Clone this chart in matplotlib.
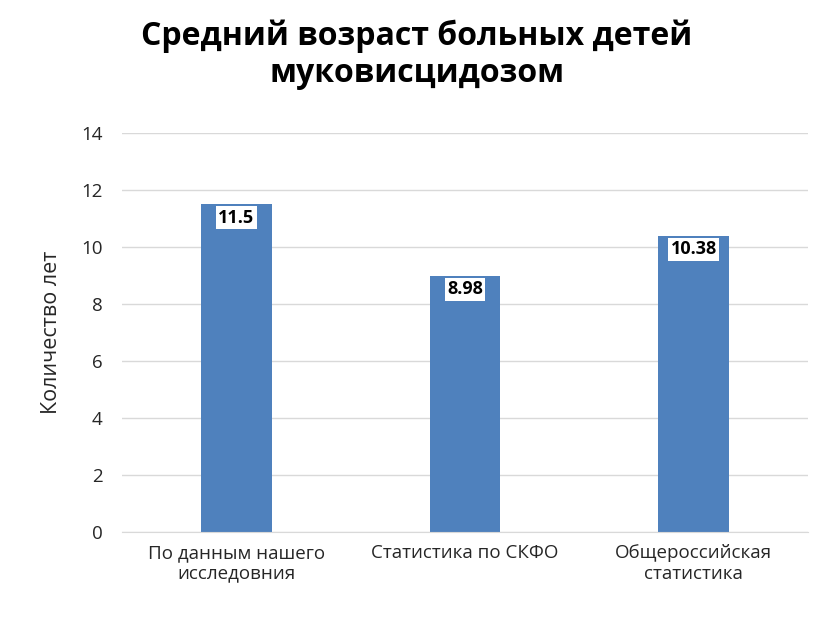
import matplotlib
matplotlib.use("Agg")
import matplotlib.pyplot as plt

categories = ["По данным нашего\nисследовния", "Статистика по СКФО", "Общероссийская\nстатистика"]
values = [11.5, 8.98, 10.38]
labels = ["11.5", "8.98", "10.38"]

plt.rcParams['font.family'] = ['Open Sans', 'DejaVu Sans']
fig = plt.figure(figsize=(8.34, 6.31), dpi=100)
ax = fig.add_axes([122/834, 1-532/631, (808-122)/834, (532-133)/631])
x = range(len(values))
ax.bar(x, values, width=0.31, color="#4f81bd", zorder=2)
for xi, v, l in zip(x, values, labels):
    ax.text(xi, v - 0.15, l, ha="center", va="top", fontsize=13, fontweight="bold",
            bbox=dict(facecolor="white", edgecolor="none", pad=1.5), zorder=3)
ax.set_xlim(-0.5, 2.5)
ax.set_ylim(0, 14)
ax.set_yticks(range(0, 15, 2))
ax.set_xticks(list(x))
ax.set_xticklabels(categories, fontsize=13.5, color="#262626", linespacing=1.15)
ax.tick_params(axis='y', labelsize=13.5, colors="#262626", length=0, pad=14)
ax.tick_params(axis='x', length=0, pad=9)
ax.grid(axis='y', color="#d9d9d9", linewidth=1, zorder=0)
for s in ["top", "right", "left"]:
    ax.spines[s].set_visible(False)
ax.spines["bottom"].set_color("#d9d9d9")
ax.set_ylabel("Количество лет", fontsize=15.5, color="#262626", labelpad=14)
fig.text(0.5, 1-55/631, "Средний возраст больных детей\nмуковисцидозом", ha="center", va="center",
         fontsize=23, fontweight="bold", linespacing=1.15)
fig.savefig("out.png", dpi=100, facecolor="white")
